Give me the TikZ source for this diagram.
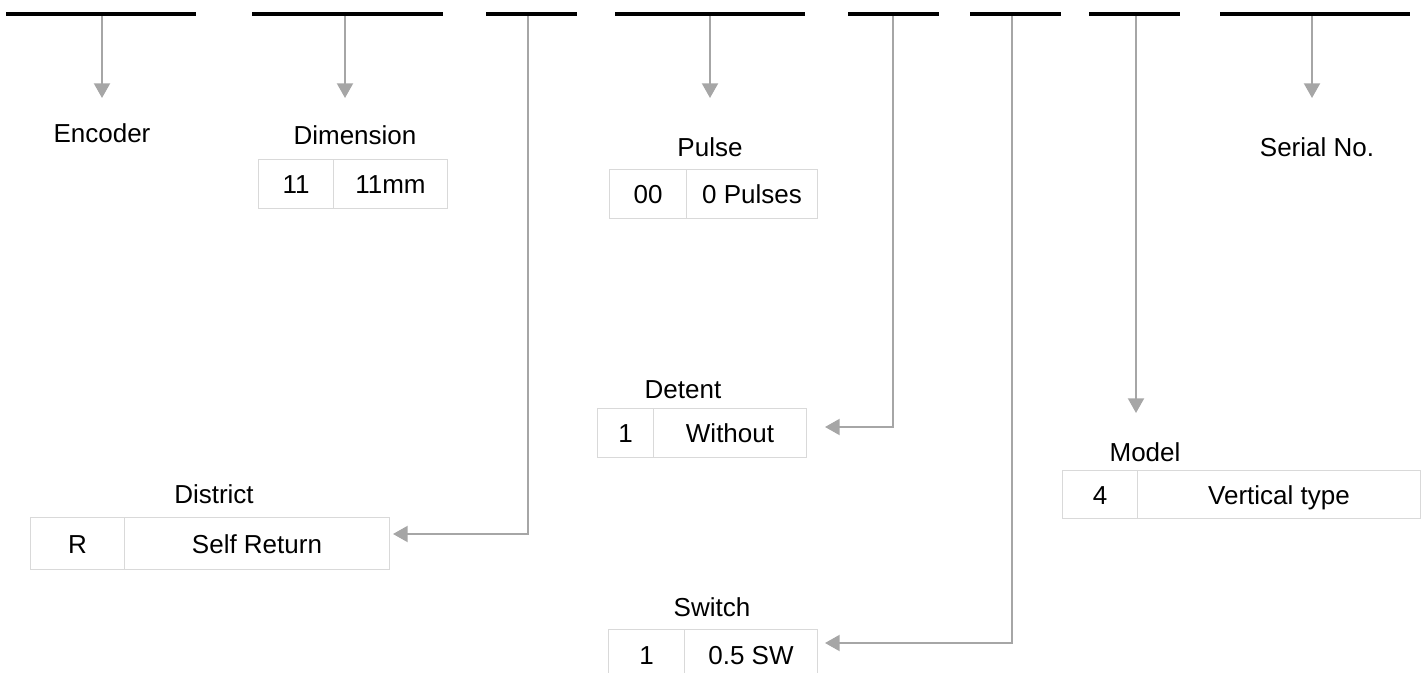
\documentclass[tikz,border=0pt]{standalone}
\usepackage{fontspec}
\setmainfont{Liberation Sans}
\usetikzlibrary{arrows.meta}
\definecolor{linegray}{HTML}{A6A6A6}
\definecolor{cellgray}{HTML}{D9D9D9}
\begin{document}
\begin{tikzpicture}[x=0.75pt,y=-0.75pt,
  bar/.style={line width=3pt, black},
  conn/.style={draw=linegray, line width=1.5pt, -{Triangle[length=11pt,width=12pt]}},
  cell/.style={draw=cellgray, line width=0.75pt, anchor=north west, inner sep=0pt, text height=17pt, text depth=2pt, font=\fontsize{19.5}{23}\selectfont},
  lbl/.style={inner sep=0pt, font=\fontsize{19.5}{23}\selectfont}]
\useasboundingbox (0,0) rectangle (1425,673);

% connector start points on bars
\coordinate (s1) at (102,14);
\coordinate (s2) at (345,14);
\coordinate (s3) at (528,14);
\coordinate (s4) at (710,14);
\coordinate (s5) at (893,14);
\coordinate (s6) at (1012,14);
\coordinate (s7) at (1136,14);
\coordinate (s8) at (1312,14);
% arrow tips
\coordinate (t1) at (102,98);
\coordinate (t2) at (345,98);
\coordinate (t3) at (393,534);
\coordinate (t4) at (710,98);
\coordinate (t5) at (825,427);
\coordinate (t6) at (825,643);
\coordinate (t7) at (1136,413);
\coordinate (t8) at (1312,98);

% labels
\node[lbl] (enc) at (102,133) {Encoder};
\node[lbl] (dim) at (355,135) {Dimension};
\node[lbl] (pul) at (710,147) {Pulse};
\node[lbl] (ser) at (1317,147) {Serial No.};
\node[lbl] (det) at (683,390) {Detent};
\node[lbl] (mod) at (1145,452) {Model};
\node[lbl] (dis) at (214,494) {District};
\node[lbl] (swi) at (712,607) {Switch};

% tables
\node[cell, minimum width=56.25pt, minimum height=36.75pt] (dimk) at (258,159) {11};
\node[cell, minimum width=85.5pt, minimum height=36.75pt] (dimv) at (333,159) {11mm};
\node[cell, minimum width=57.75pt, minimum height=36.75pt] (pulk) at (609,169) {00};
\node[cell, minimum width=98.25pt, minimum height=36.75pt] (pulv) at (686,169) {0 Pulses};
\node[cell, minimum width=42pt, minimum height=36.75pt] (detk) at (597,408) {1};
\node[cell, minimum width=114.75pt, minimum height=36.75pt] (detv) at (653,408) {Without};
\node[cell, minimum width=57pt, minimum height=36.75pt] (swik) at (608,629) {1};
\node[cell, minimum width=99.75pt, minimum height=36.75pt] (swiv) at (684,629) {0.5 SW};
\node[cell, minimum width=70.5pt, minimum height=39pt] (disk) at (30,517) {R};
\node[cell, minimum width=198.75pt, minimum height=39pt] (disv) at (124,517) {Self Return};
\node[cell, minimum width=56.25pt, minimum height=36pt] (modk) at (1062,470) {4};
\node[cell, minimum width=212.25pt, minimum height=36pt] (modv) at (1137,470) {Vertical type};

% connectors
\draw[conn] (s1) -- (t1);
\draw[conn] (s2) -- (t2);
\draw[conn] (s3) |- (t3);
\draw[conn] (s4) -- (t4);
\draw[conn] (s5) |- (t5);
\draw[conn] (s6) |- (t6);
\draw[conn] (s7) -- (t7);
\draw[conn] (s8) -- (t8);

% bars
\draw[bar] (6,14) -- (196,14);
\draw[bar] (252,14) -- (443,14);
\draw[bar] (486,14) -- (577,14);
\draw[bar] (615,14) -- (805,14);
\draw[bar] (848,14) -- (939,14);
\draw[bar] (970,14) -- (1061,14);
\draw[bar] (1089,14) -- (1180,14);
\draw[bar] (1220,14) -- (1410,14);
\end{tikzpicture}
\end{document}
